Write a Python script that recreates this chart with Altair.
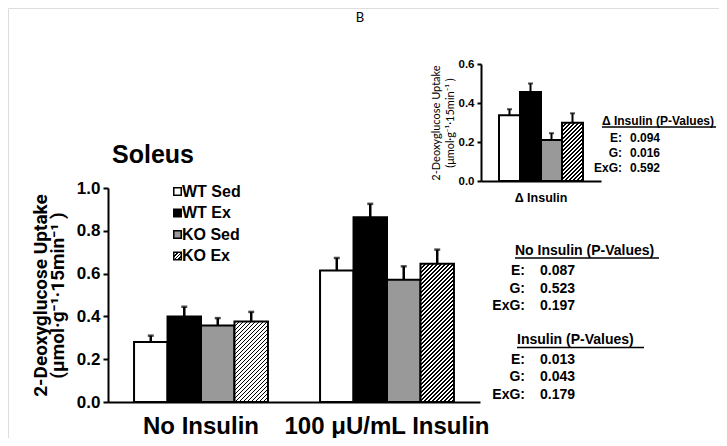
import altair as alt
import pandas as pd

# ---------------- data ----------------
groups = ["No Insulin", "100 μU/mL Insulin"]
series = ["WT Sed", "WT Ex", "KO Sed", "KO Ex"]
no_insulin = [0.28, 0.40, 0.357, 0.376]
no_insulin_err = [0.03, 0.045, 0.035, 0.045]
insulin = [0.615, 0.863, 0.571, 0.646]
insulin_err = [0.058, 0.063, 0.063, 0.066]
delta_group = ["Δ Insulin"]
delta = [0.337, 0.456, 0.21, 0.299]
delta_err = [0.031, 0.044, 0.035, 0.048]
main_ticks = [0.0, 0.2, 0.4, 0.6, 0.8, 1.0]
inset_ticks = [0.0, 0.2, 0.4, 0.6]

y_title = ["2-Deoxyglucose Uptake", "(μmol·g⁻¹·15min⁻¹ )"]
panel_title = "Soleus"
figure_letter = "B"

pv_terms = ["E:", "G:", "ExG:"]
pv_no_ins_title = "No Insulin (P-Values)"
pv_no_ins = ["0.087", "0.523", "0.197"]
pv_ins_title = "Insulin  (P-Values)"
pv_ins = ["0.013", "0.043", "0.179"]
pv_delta_title = "Δ Insulin (P-Values)"
pv_delta = ["0.094", "0.016", "0.592"]

# ---------------- styling / layout ----------------
W, H = 711, 430
ARIAL = "Liberation Sans"
CAL = "Lato"
CALB = "Roboto"
solid_fills = ["white", "black", "#999999"]   # KO Ex is hatched
MAIN_X = [100, 472]
MAIN_Y = [394, 180]
INSET_X = [473, 593]
INSET_Y = [173, 56]


def hatch(w, h, period=4.0, frac=0.45):
    L = w + h
    stops = []
    k = 0
    while k * period < L:
        a = k * period / L
        b = min((k * period + period * frac) / L, 1.0)
        c = min((k + 1) * period / L, 1.0)
        stops += [alt.GradientStop(color="black", offset=a),
                  alt.GradientStop(color="black", offset=b),
                  alt.GradientStop(color="white", offset=b),
                  alt.GradientStop(color="white", offset=c)]
        k += 1
    s = w * w + h * h
    return alt.LinearGradient(gradient="linear", stops=stops,
                              x1=0, y1=0, x2=w * L / s, y2=h * L / s)


# ---------------- main panel ----------------
main_df = pd.DataFrame({
    "group": [g for g in groups for _ in series],
    "series": series * len(groups),
    "value": no_insulin + insulin,
    "err": no_insulin_err + insulin_err,
})
main_df["upper"] = main_df["value"] + main_df["err"]

m_pi, m_po = 0.28, 0.14
m_step = (MAIN_X[1] - MAIN_X[0]) / (len(groups) - m_pi + 2 * m_po)
m_barw = m_step * (1 - m_pi) / len(series)
m_pxper = (MAIN_Y[0] - MAIN_Y[1]) / 1.0

mx = alt.X("group:N", sort=groups,
           scale=alt.Scale(domain=groups, range=MAIN_X, paddingInner=m_pi, paddingOuter=m_po),
           axis=alt.Axis(orient="bottom", offset=-(H - MAIN_Y[0]), title=None, labelAngle=0,
                         domainWidth=2, domainColor="black", ticks=False, labelLimit=400,
                         labelFont=ARIAL, labelFontSize=24, labelFontWeight="bold",
                         labelColor="black", labelPadding=12))
mxo = alt.XOffset("series:N", sort=series,
                  scale=alt.Scale(domain=series, paddingInner=0, paddingOuter=0))
my = alt.Y("value:Q",
           scale=alt.Scale(domain=[0, 1], range=MAIN_Y, nice=False),
           axis=alt.Axis(orient="left", offset=-MAIN_X[0], values=main_ticks, format=".1f",
                         grid=False, domainWidth=2, domainColor="black",
                         tickWidth=2, tickSize=5, tickColor="black",
                         labelFont=ARIAL, labelFontSize=17, labelFontWeight="bold",
                         labelColor="black", labelPadding=3,
                         title=y_title, titleFont=CALB, titleFontSize=19,
                         titleFontWeight="bold", titleColor="black", titleLimit=400,
                         titleLineHeight=17, titlePadding=9))

mbase = alt.Chart(main_df)
main_bars = mbase.mark_bar(stroke="black", strokeWidth=2).encode(
    x=mx, xOffset=mxo, y=my,
    fill=alt.Fill("series:N", scale=alt.Scale(domain=series[:3], range=solid_fills), legend=None),
).transform_filter(alt.datum.series != series[3])

main_hatch = []
for g, v in zip(groups, [no_insulin[3], insulin[3]]):
    main_hatch.append(
        mbase.mark_bar(stroke="black", strokeWidth=2, fill=hatch(m_barw, v * m_pxper))
        .encode(x=mx, xOffset=mxo, y=my)
        .transform_filter((alt.datum.series == series[3]) & (alt.datum.group == g))
    )

main_err = mbase.mark_rule(color="black", strokeWidth=2.5).encode(
    x=mx, xOffset=mxo, y=my, y2="upper:Q")
main_cap = mbase.mark_tick(color="black", thickness=2.5, size=6).encode(
    x=mx, xOffset=mxo, y=alt.Y("upper:Q"))

main = alt.layer(main_bars, *main_hatch, main_err, main_cap)

# ---------------- inset panel ----------------
inset_df = pd.DataFrame({
    "group": delta_group * len(series),
    "series": series,
    "value": delta,
    "err": delta_err,
})
inset_df["upper"] = inset_df["value"] + inset_df["err"]

i_pi, i_po = 0.0, 0.2143
i_step = (INSET_X[1] - INSET_X[0]) / (1 - i_pi + 2 * i_po)
i_barw = i_step * (1 - i_pi) / len(series)
i_pxper = (INSET_Y[0] - INSET_Y[1]) / 0.6

ix = alt.X("group:N",
           scale=alt.Scale(domain=delta_group, range=INSET_X, paddingInner=i_pi, paddingOuter=i_po),
           axis=alt.Axis(orient="bottom", offset=-(H - INSET_Y[0]), title=None, labelAngle=0,
                         domainWidth=2, domainColor="black", ticks=False,
                         labelFont=ARIAL, labelFontSize=12.5, labelFontWeight="bold",
                         labelColor="black", labelPadding=10))
ixo = alt.XOffset("series:N", sort=series,
                  scale=alt.Scale(domain=series, paddingInner=0, paddingOuter=0))
iy = alt.Y("value:Q",
           scale=alt.Scale(domain=[0, 0.6], range=INSET_Y, nice=False),
           axis=alt.Axis(orient="left", offset=-INSET_X[0], values=inset_ticks, format=".1f",
                         grid=False, domainWidth=2, domainColor="black",
                         tickWidth=2, tickSize=4, tickColor="black",
                         labelFont=ARIAL, labelFontSize=11.5, labelFontWeight="bold",
                         labelColor="black", labelPadding=3,
                         title=y_title, titleFont=CAL, titleFontSize=11,
                         titleFontWeight="normal", titleColor="black", titleLimit=300,
                         titleLineHeight=14, titlePadding=3))

ibase = alt.Chart(inset_df)
inset_bars = ibase.mark_bar(stroke="black", strokeWidth=2).encode(
    x=ix, xOffset=ixo, y=iy,
    fill=alt.Fill("series:N", scale=alt.Scale(domain=series[:3], range=solid_fills), legend=None),
).transform_filter(alt.datum.series != series[3])
inset_hatch = ibase.mark_bar(stroke="black", strokeWidth=2, fill=hatch(i_barw, delta[3] * i_pxper)).encode(
    x=ix, xOffset=ixo, y=iy).transform_filter(alt.datum.series == series[3])
inset_err = ibase.mark_rule(color="black", strokeWidth=2).encode(
    x=ix, xOffset=ixo, y=iy, y2="upper:Q")
inset_cap = ibase.mark_tick(color="black", thickness=2, size=5).encode(
    x=ix, xOffset=ixo, y=alt.Y("upper:Q"))

inset = alt.layer(inset_bars, inset_hatch, inset_err, inset_cap)

# ---------------- legend ----------------
leg_df = pd.DataFrame({"series": series})
ly = alt.Y("series:N", sort=series,
           scale=alt.Scale(domain=series, range=[183.5, 248], padding=0), axis=None)
lbase = alt.Chart(leg_df)
leg_sq = lbase.mark_square(size=56, stroke="black", strokeWidth=1.5, opacity=1).encode(
    y=ly, x=alt.value(169.5),
    fill=alt.Fill("series:N", scale=alt.Scale(domain=series[:3], range=solid_fills), legend=None),
).transform_filter(alt.datum.series != series[3])
leg_hatch = lbase.mark_square(size=56, stroke="black", strokeWidth=1.5, opacity=1,
                              fill=hatch(7.5, 7.5, period=3.5)).encode(
    y=ly, x=alt.value(169.5)).transform_filter(alt.datum.series == series[3])
leg_txt = lbase.mark_text(align="left", baseline="middle", font=ARIAL, fontSize=16,
                          fontWeight="bold", color="black").encode(
    y=ly, x=alt.value(174), text="series:N")
legend = alt.layer(leg_sq, leg_hatch, leg_txt)

# ---------------- annotations ----------------
one = alt.Data(values=[{}])


def txt(s, x, y, size, align="left", baseline="middle", font=ARIAL, weight="bold", lh=None):
    kw = dict(align=align, baseline=baseline, font=font, fontSize=size,
              fontWeight=weight, color="black")
    if lh is not None:
        kw["lineHeight"] = lh
    return alt.Chart(one).mark_text(**kw).encode(
        x=alt.value(x), y=alt.value(y), text=alt.value(s))


def uline(x0, x1, y):
    return alt.Chart(one).mark_rule(color="black", strokeWidth=1.3).encode(
        x=alt.value(x0), x2=alt.value(x1), y=alt.value(y))


ann = [
    txt(figure_letter, 352, 14, 13, align="center", baseline="alphabetic", font=CAL, weight="normal"),
    txt(panel_title, 104, 147, 25),
    # No insulin p-values
    txt(pv_no_ins_title, 507, 243, 14),
    uline(507, 651, 250),
    txt(pv_terms, 517, 256, 14, align="right", baseline="top", lh=17.5),
    txt(pv_no_ins, 532, 256, 14, baseline="top", lh=17.5),
    # Insulin p-values
    txt(pv_ins_title, 509, 332, 14),
    uline(509, 636, 339.5),
    txt(pv_terms, 517, 344.5, 14, align="right", baseline="top", lh=17.5),
    txt(pv_ins, 532, 344.5, 14, baseline="top", lh=17.5),
    # Delta p-values
    txt(pv_delta_title, 594, 112.5, 12),
    uline(594, 708, 119),
    txt(pv_terms, 614, 124.5, 12, align="right", baseline="top", lh=15),
    txt(pv_delta, 622, 124.5, 12, baseline="top", lh=15),
]

chart = alt.layer(main, inset, legend, *ann).resolve_scale(
    x="independent", y="independent", xOffset="independent", fill="independent"
).properties(
    width=W, height=H, autosize=alt.AutoSizeParams(type="none"), padding=0
).configure_view(strokeWidth=0).configure(background="white")

chart.save("out.html", embed_options={"renderer": "svg", "actions": False})
